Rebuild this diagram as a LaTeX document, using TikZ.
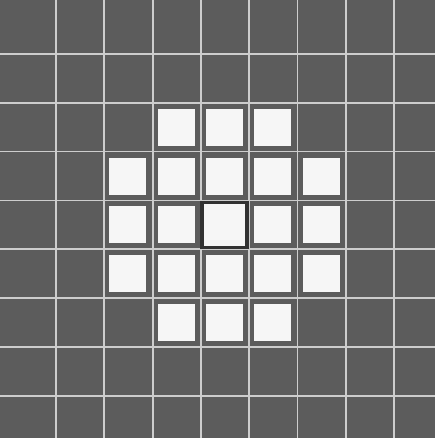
\documentclass[tikz,border=0pt]{standalone}
\definecolor{bggray}{RGB}{92,92,92}
\definecolor{gridcol}{RGB}{205,205,205}
\definecolor{cellwhite}{RGB}{246,246,246}
\definecolor{borderdark}{RGB}{50,50,50}
\tikzset{
  gridline/.style={draw=gridcol, line width=1.8pt},
  whitecell/.style={fill=cellwhite},
  centerframe/.style={draw=borderdark, line width=3.5pt}
}
\begin{document}
\begin{tikzpicture}[x=1pt,y=-1pt]
\useasboundingbox (0,0) rectangle (435,438);
\fill[bggray] (0,0) rectangle (435,438);
% grid lines
\foreach \i in {0,...,7} {
  \draw[gridline] ({56+48.3*\i},0) -- ({56+48.3*\i},438);
  \draw[gridline] (0,{54+48.8*\i}) -- (435,{54+48.8*\i});
}
% white cells (disk of radius 2 around centre cell)
\foreach \r/\c in {2/3,2/4,2/5,
                   3/2,3/3,3/4,3/5,3/6,
                   4/2,4/3,4/5,4/6,
                   5/2,5/3,5/4,5/5,5/6,
                   6/3,6/4,6/5} {
  \pgfmathsetmacro{\xo}{56+48.3*(\c-1)}
  \pgfmathsetmacro{\yo}{54+48.8*(\r-1)}
  \fill[whitecell] ({\xo+5},{\yo+6}) rectangle ({\xo+42},{\yo+43});
}
% centre cell with dark frame
\pgfmathsetmacro{\xc}{56+48.3*3}
\pgfmathsetmacro{\yc}{54+48.8*3}
\fill[whitecell] ({\xc+2},{\yc+3}) rectangle ({\xc+45},{\yc+46});
\draw[centerframe] ({\xc+1},{\yc+2}) rectangle ({\xc+46},{\yc+47});
\end{tikzpicture}
\end{document}
